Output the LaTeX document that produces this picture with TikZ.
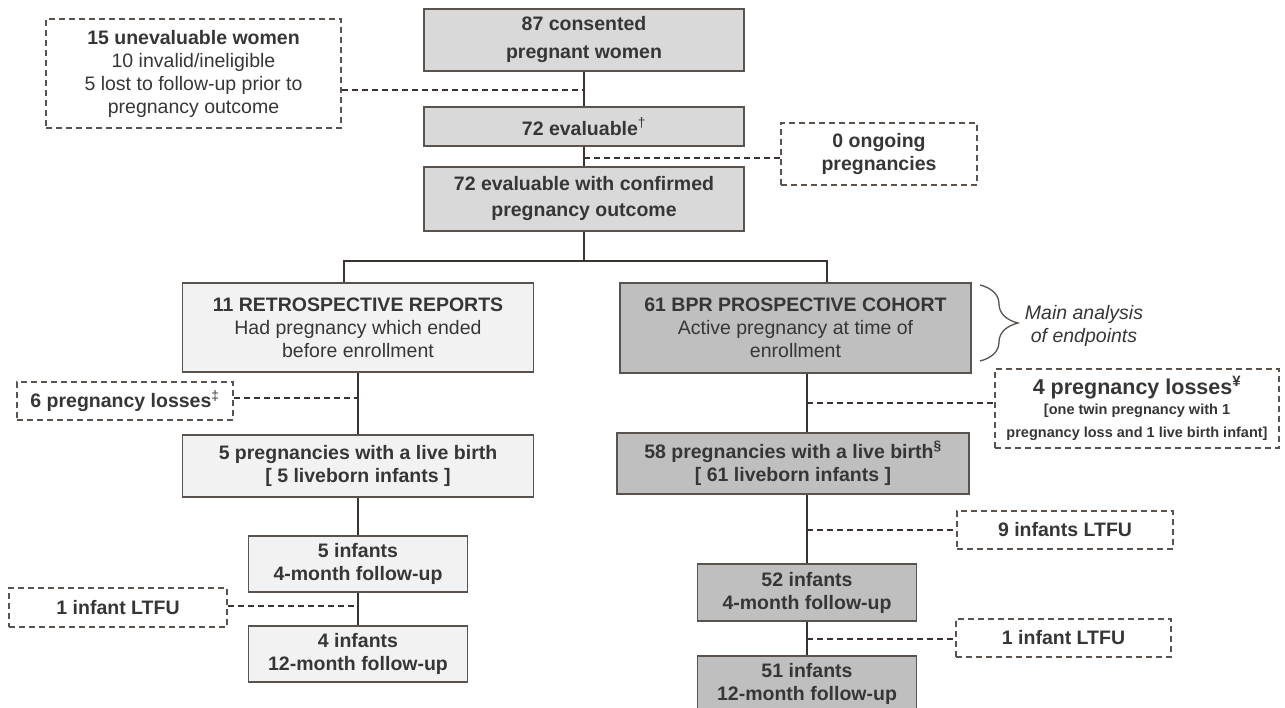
\documentclass[tikz,border=0pt]{standalone}
\usepackage{fontspec}
\setmainfont{Liberation Sans}
\usetikzlibrary{decorations.pathreplacing}

\definecolor{edgegray}{HTML}{5A524C}
\definecolor{linkgray}{HTML}{3A3330}
\definecolor{textgray}{HTML}{363636}
\definecolor{fillmid}{HTML}{D9D9D9}
\definecolor{filllight}{HTML}{F2F2F2}
\definecolor{filldark}{HTML}{BFBFBF}

\begin{document}
\begin{tikzpicture}[x=1pt, y=-1pt,
    font=\fontsize{19.5}{23}\selectfont, text=textgray,
    box/.style={draw=edgegray, line width=1.8pt, align=center, inner sep=1pt},
    midbox/.style={box, fill=fillmid},
    lightbox/.style={box, fill=filllight},
    darkbox/.style={box, fill=filldark},
    dashbox/.style={draw=edgegray, line width=1.3pt, dash pattern=on 6pt off 4pt, align=center, inner sep=1pt},
    link/.style={draw=linkgray, line width=2.4pt},
    dashlink/.style={draw=linkgray, line width=1.3pt, dash pattern=on 6pt off 4pt}]
    \useasboundingbox (0,0) rectangle (1285,708);
    % top of the chart
    \node[midbox, minimum width=320pt, minimum height=62pt] (consent) at (584,40) {\textbf{87 consented}\\[5pt]\textbf{pregnant women}};
    \node[midbox, minimum width=320pt, minimum height=39pt] (evaluable) at (584,126.5) {\textbf{72 evaluable}\textsuperscript{†}};
    \node[midbox, minimum width=320pt, minimum height=64pt] (confirmed) at (584,199) {\textbf{72 evaluable with confirmed}\\[3pt]\textbf{pregnancy outcome}};
    \node[dashbox, minimum width=295pt, minimum height=109pt] (unevaluable) at (193.5,73.5) {\textbf{15 unevaluable women}\\10 invalid/ineligible\\5 lost to follow-up prior to\\pregnancy outcome};
    \node[dashbox, minimum width=196pt, minimum height=62pt] (ongoing) at (879,154) {\textbf{0 ongoing}\\\textbf{pregnancies}};
    % two cohorts
    \node[lightbox, minimum width=351pt, minimum height=89pt] (retro) at (358,327.5) {\textbf{11 RETROSPECTIVE REPORTS}\\Had pregnancy which ended\\before enrollment};
    \node[darkbox, minimum width=351pt, minimum height=90pt] (prosp) at (795.5,328) {\textbf{61 BPR PROSPECTIVE COHORT}\\Active pregnancy at time of\\enrollment};
    \draw[edgegray, line width=1.3pt, decorate, decoration={brace, amplitude=38pt}] (980,285) -- (980,361);
    \node[align=center, font=\fontsize{19.5}{23}\selectfont\itshape] (mainlabel) at (1084,326) {Main analysis\\of endpoints};
    \node[dashbox, minimum width=216pt, minimum height=38pt] (retroloss) at (125,401) {\textbf{6 pregnancy losses}\textsuperscript{‡}};
    \node[dashbox, minimum width=284pt, minimum height=79pt] (prosploss) at (1137,408.5) {\fontsize{21.5}{24}\selectfont\textbf{4 pregnancy losses}\textsuperscript{\textbf{¥}}\\[-3pt]\fontsize{14.5}{20}\selectfont\textbf{[one twin pregnancy with 1}\\\fontsize{14.5}{20}\selectfont\textbf{pregnancy loss and 1 live birth infant]}};
    % live births
    \node[lightbox, minimum width=351pt, minimum height=62pt] (retrolive) at (358,466) {\textbf{5 pregnancies with a live birth}\\\textbf{[ 5 liveborn infants ]}};
    \node[darkbox, minimum width=352pt, minimum height=61pt] (prosplive) at (793,463.5) {\textbf{58 pregnancies with a live birth}\textsuperscript{\textbf{§}}\\\textbf{[ 61 liveborn infants ]}};
    % follow-up
    \node[lightbox, minimum width=219pt, minimum height=56pt] (retrofour) at (358,564) {\textbf{5 infants}\\\textbf{4-month follow-up}};
    \node[lightbox, minimum width=219pt, minimum height=56pt] (retrotwelve) at (358,654) {\textbf{4 infants}\\\textbf{12-month follow-up}};
    \node[darkbox, minimum width=219pt, minimum height=57pt] (prospfour) at (807,592.5) {\textbf{52 infants}\\\textbf{4-month follow-up}};
    \node[darkbox, minimum width=219pt, minimum height=56pt] (prosptwelve) at (807,684) {\textbf{51 infants}\\\textbf{12-month follow-up}};
    \node[dashbox, minimum width=218pt, minimum height=39pt] (retroltfu) at (118,607.5) {\textbf{1 infant LTFU}};
    \node[dashbox, minimum width=216pt, minimum height=38pt] (prospltfunine) at (1065,530) {\textbf{9 infants LTFU}};
    \node[dashbox, minimum width=215pt, minimum height=38pt] (prospltfuone) at (1063.5,638) {\textbf{1 infant LTFU}};
    % solid links
    \coordinate (split) at (confirmed.south |- 0,261);
    \draw[link] (consent) -- (evaluable);
    \draw[link] (evaluable) -- (confirmed);
    \draw[link] (confirmed) -- (split);
    \draw[link] ([xshift=-14pt]retro.north) |- (split) -| ([xshift=31.5pt]prosp.north);
    \draw[link] (retro) -- (retrolive);
    \draw[link] (retrolive) -- (retrofour);
    \draw[link] (retrofour) -- (retrotwelve);
    \draw[link] (prosp.south -| prospfour) -- (prosplive.north -| prospfour);
    \draw[link] (prosplive.south -| prospfour) -- (prospfour);
    \draw[link] (prospfour) -- (prosptwelve);
    % dashed links
    \draw[dashlink] (unevaluable.east |- 0,90) -- (consent.south |- 0,90);
    \draw[dashlink] (evaluable.south |- 0,158) -- (ongoing.west |- 0,158);
    \draw[dashlink] (retroloss.east |- 0,398) -- (retro.south |- 0,398);
    \draw[dashlink] (prospfour.north |- 0,403) -- (prosploss.west |- 0,403);
    \draw[dashlink] (prospfour.north |- 0,530) -- (prospltfunine.west);
    \draw[dashlink] (retroltfu.east |- 0,606) -- (retrofour.south |- 0,606);
    \draw[dashlink] (prospfour.south |- 0,639) -- (prospltfuone.west |- 0,639);
\end{tikzpicture}
\end{document}
